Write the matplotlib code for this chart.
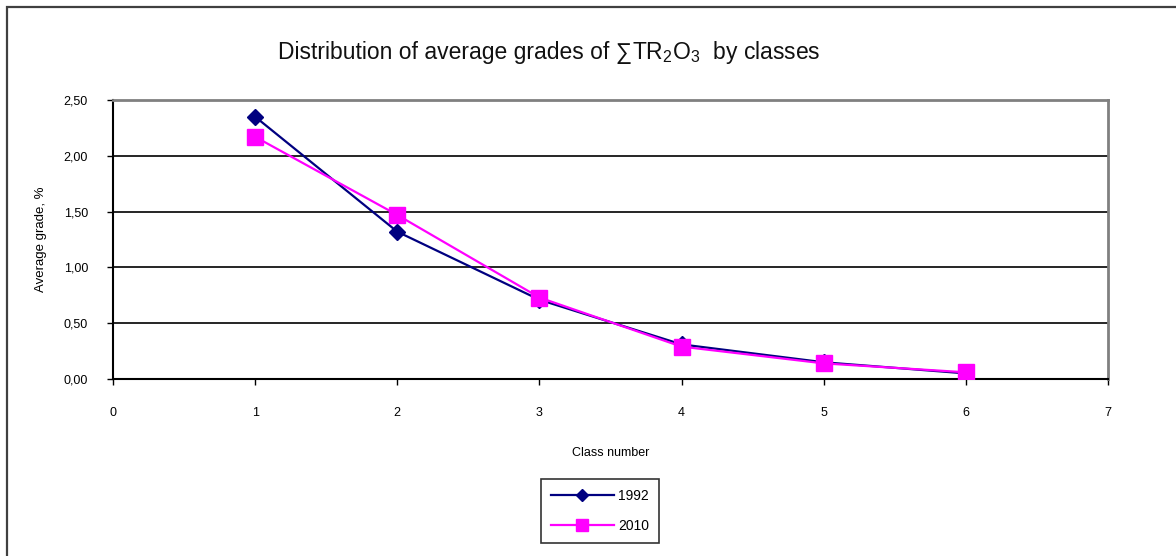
import matplotlib
matplotlib.use("Agg")
import matplotlib.pyplot as plt
from matplotlib.patches import Rectangle
from matplotlib.ticker import FuncFormatter, MultipleLocator
from matplotlib.offsetbox import TextArea, HPacker, AnchoredOffsetbox

plt.rcParams["font.family"] = ["Liberation Sans", "DejaVu Sans"]
plt.rcParams["mathtext.fontset"] = "custom"
plt.rcParams["mathtext.rm"] = "Liberation Sans"
plt.rcParams["mathtext.it"] = "Liberation Sans"

# ----------------------------
# Data
# ----------------------------
CLASSES = [1, 2, 3, 4, 5, 6]
GRADE_1992 = [2.35, 1.32, 0.71, 0.31, 0.15, 0.05]
GRADE_2010 = [2.17, 1.47, 0.73, 0.29, 0.14, 0.06]

NAVY = "#000080"
MAGENTA = "#FF00FF"

fig = plt.figure(figsize=(11.76, 5.56), dpi=100)

# outer chart frame (partially outside the picture, as in the source)
fig.patches.append(Rectangle((7 / 1176, -0.1), 1.2, 1 - 7 / 556 + 0.1,
                             transform=fig.transFigure, fill=False,
                             edgecolor="#404040", linewidth=1.6))

ax = fig.add_axes([113 / 1176, 1 - 379 / 556, (1108 - 113) / 1176, (379 - 100) / 556])

ax.plot(CLASSES, GRADE_1992, color=NAVY, lw=1.6, marker="D", ms=8,
        mfc=NAVY, mec=NAVY, label="1992", zorder=3)
ax.plot(CLASSES, GRADE_2010, color=MAGENTA, lw=1.6, marker="s", ms=11,
        mfc=MAGENTA, mec=MAGENTA, label="2010", zorder=4)

ax.set_xlim(0, 7)
ax.set_ylim(0, 2.5)
ax.xaxis.set_major_locator(MultipleLocator(1))
ax.yaxis.set_major_locator(MultipleLocator(0.5))
ax.yaxis.set_major_formatter(FuncFormatter(lambda v, p: f"{v:.2f}".replace(".", ",")))

ax.grid(axis="y", color="black", lw=1.2)
ax.set_axisbelow(True)

for side in ("top", "right"):
    ax.spines[side].set_color("#808080")
    ax.spines[side].set_linewidth(2)
for side in ("left", "bottom"):
    ax.spines[side].set_color("black")
    ax.spines[side].set_linewidth(1.5)

ax.tick_params(axis="both", direction="out", length=4, width=1, labelsize=9)
ax.tick_params(axis="x", pad=16)
ax.tick_params(axis="y", pad=14)

ax.set_xlabel("Class number", fontsize=9, labelpad=20)
ax.set_ylabel("Average grade, %", fontsize=9.5, labelpad=12)

# title: plain part + chemical formula part, packed side by side
t_style = dict(fontsize=16.5, color="#111111")
title_box = HPacker(children=[
    TextArea("Distribution of average grades of \u2211", textprops=t_style),
    TextArea("TR$_2$O$_3$  by classes", textprops=t_style),
], pad=0, sep=0, align="baseline")
anch = AnchoredOffsetbox(loc="center", child=title_box, frameon=False,
                         bbox_to_anchor=(549 / 1176, 1 - 53 / 556),
                         bbox_transform=fig.transFigure, pad=0, borderpad=0)
fig.add_artist(anch)

leg = fig.legend(loc="center", bbox_to_anchor=(600 / 1176, 1 - 511 / 556),
                 frameon=True, fancybox=False, fontsize=10, handlelength=4.5,
                 borderpad=0.7, labelspacing=1.2, handletextpad=0.3,
                 markerscale=0.8)
leg.get_frame().set_edgecolor("black")
leg.get_frame().set_linewidth(1.2)

fig.savefig("out.png", dpi=100)
